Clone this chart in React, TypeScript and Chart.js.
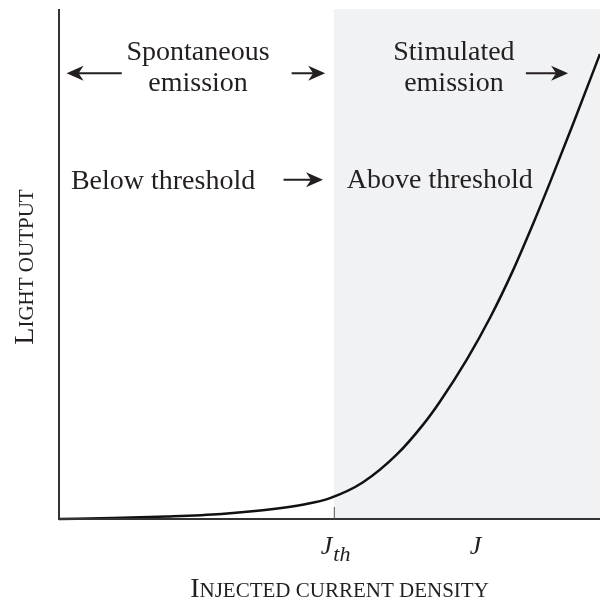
import React, { useEffect, useRef } from "react";
import { Chart, registerables } from "chart.js";

Chart.register(...registerables);

// Curve: injected current density (x) vs light output (y), arbitrary units
const currentDensity = [0, 1, 2, 3, 4, 4.5, 5.01, 5.62, 6.25, 6.73, 7.04, 7.54, 7.97, 8.39, 8.76, 9.08, 9.5, 10];
const lightOutput = [0, 0.02, 0.05, 0.1, 0.2, 0.28, 0.41, 0.72, 1.27, 1.85, 2.3, 3.13, 3.95, 4.87, 5.78, 6.61, 7.74, 9.12];

const thresholdJ = 5.08; // J_th
const markerJ = 7.7; // J label
const xTitle = "Injected current density";
const yTitle = "Light output";

// Text annotations in data coordinates: [text, x, y, align]
const textLabels: [string, number, number, CanvasTextAlign][] = [
  ["Spontaneous", 2.57, 9.0, "center"],
  ["emission", 2.57, 8.39, "center"],
  ["Stimulated", 7.3, 9.0, "center"],
  ["emission", 7.3, 8.39, "center"],
  ["Below threshold", 0.22, 6.47, "left"],
  ["Above threshold", 5.32, 6.49, "left"],
];

// Arrows in data coordinates: [tailX, tipX, y]
const arrows: [number, number, number][] = [
  [1.16, 0.14, 8.74],
  [4.3, 4.92, 8.74],
  [8.63, 9.41, 8.74],
  [4.15, 4.88, 6.65],
];

const SERIF = "'Liberation Serif', 'DejaVu Serif', serif";

function drawSmallCaps(ctx: CanvasRenderingContext2D, text: string, cx: number, cy: number, big: number, small: number) {
  const parts: { t: string; s: number }[] = [
    { t: text[0].toUpperCase(), s: big },
    { t: text.slice(1).toUpperCase(), s: small },
  ];
  let total = 0;
  for (const p of parts) {
    ctx.font = `${p.s}px ${SERIF}`;
    total += ctx.measureText(p.t).width;
  }
  let x = cx - total / 2;
  ctx.textAlign = "left";
  ctx.textBaseline = "alphabetic";
  for (const p of parts) {
    ctx.font = `${p.s}px ${SERIF}`;
    ctx.fillText(p.t, x, cy);
    x += ctx.measureText(p.t).width;
  }
}

function drawArrow(ctx: CanvasRenderingContext2D, x1: number, x2: number, y: number) {
  const dir = x2 > x1 ? 1 : -1;
  ctx.beginPath();
  ctx.moveTo(x1, y);
  ctx.lineTo(x2 - dir * 8, y);
  ctx.lineWidth = 2;
  ctx.stroke();
  ctx.beginPath();
  ctx.moveTo(x2, y);
  ctx.lineTo(x2 - dir * 17, y - 7.5);
  ctx.lineTo(x2 - dir * 12, y);
  ctx.lineTo(x2 - dir * 17, y + 7.5);
  ctx.closePath();
  ctx.fill();
}

const decorPlugin = {
  id: "decor",
  beforeDatasetsDraw(chart: any) {
    const { ctx, chartArea, scales } = chart;
    const xs = scales.x;
    const xth = xs.getPixelForValue(thresholdJ);
    ctx.save();
    ctx.fillStyle = "#f1f2f4";
    ctx.fillRect(xth, chartArea.top, chartArea.right - xth, chartArea.bottom - chartArea.top);
    ctx.restore();
  },
  afterDatasetsDraw(chart: any) {
    const { ctx, chartArea, scales } = chart;
    const xs = scales.x;
    const ys = scales.y;
    ctx.save();
    // axes
    ctx.strokeStyle = "#333";
    ctx.lineWidth = 2;
    ctx.beginPath();
    ctx.moveTo(chartArea.left, chartArea.top);
    ctx.lineTo(chartArea.left, chartArea.bottom);
    ctx.lineTo(chartArea.right, chartArea.bottom);
    ctx.stroke();
    // threshold tick
    const xth = xs.getPixelForValue(thresholdJ);
    ctx.lineWidth = 1;
    ctx.strokeStyle = "#555";
    ctx.beginPath();
    ctx.moveTo(xth + 0.5, chartArea.bottom - 12);
    ctx.lineTo(xth + 0.5, chartArea.bottom);
    ctx.stroke();

    ctx.fillStyle = "#231f20";
    ctx.strokeStyle = "#231f20";
    ctx.textBaseline = "alphabetic";
    for (const [t, x, y, al] of textLabels) {
      ctx.font = `28px ${SERIF}`;
      ctx.textAlign = al;
      ctx.fillText(t, xs.getPixelForValue(x), ys.getPixelForValue(y));
    }
    for (const [a, b, y] of arrows) {
      drawArrow(ctx, xs.getPixelForValue(a), xs.getPixelForValue(b), ys.getPixelForValue(y));
    }

    // x tick labels
    const by = chartArea.bottom;
    ctx.textAlign = "left";
    ctx.font = `italic 26px ${SERIF}`;
    const jw = ctx.measureText("J").width;
    ctx.fillText("J", xth - 13, by + 35);
    ctx.font = `italic 22px ${SERIF}`;
    ctx.fillText("th", xth - 13 + jw + 1, by + 42);
    ctx.font = `italic 26px ${SERIF}`;
    ctx.textAlign = "center";
    ctx.fillText("J", xs.getPixelForValue(markerJ), by + 35);

    // axis titles
    drawSmallCaps(ctx, xTitle, (chartArea.left + chartArea.right) / 2 + 10, by + 78, 28, 21);
    ctx.save();
    ctx.translate(chartArea.left - 26, (chartArea.top + chartArea.bottom) / 2 + 3);
    ctx.rotate(-Math.PI / 2);
    drawSmallCaps(ctx, yTitle, 0, 0, 28, 21);
    ctx.restore();
    ctx.restore();
  },
};

export default function App() {
  const ref = useRef<HTMLCanvasElement | null>(null);
  useEffect(() => {
    if (!ref.current) return;
    const chart = new Chart(ref.current, {
      type: "line",
      data: {
        datasets: [
          {
            data: currentDensity.map((x, i) => ({ x, y: lightOutput[i] })),
            borderColor: "#111",
            borderWidth: 2.5,
            pointRadius: 0,
            cubicInterpolationMode: "monotone",
            fill: false,
            clip: 4,
          } as any,
        ],
      },
      options: {
        animation: false,
        responsive: false,
        maintainAspectRatio: false,
        layout: { padding: { left: 59, right: 0, top: 9, bottom: 83 } },
        plugins: { legend: { display: false }, tooltip: { enabled: false } },
        scales: {
          x: { type: "linear", min: 0, max: 10, display: false },
          y: { type: "linear", min: 0, max: 10, display: false },
        },
      },
      plugins: [decorPlugin],
    });
    return () => chart.destroy();
  }, []);
  return (
    <div style={{ position: "absolute", left: 0, top: 0, width: 600, height: 602, background: "#fff" }}>
      <canvas ref={ref} width={600} height={602} style={{ display: "block" }} />
    </div>
  );
}
